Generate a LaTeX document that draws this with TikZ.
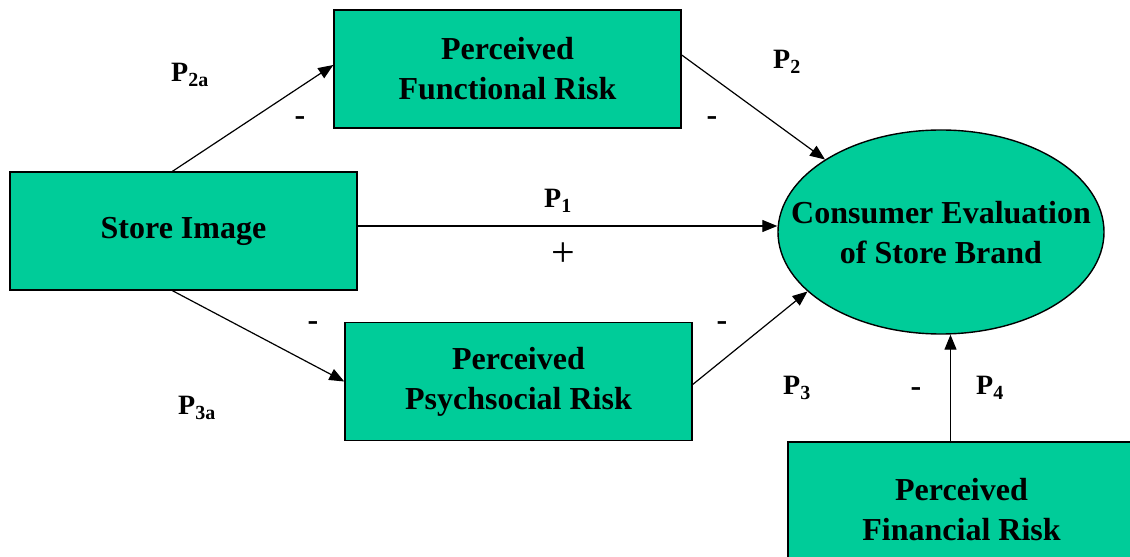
\documentclass[tikz,border=0pt]{standalone}
\usepackage{fontspec}
\setmainfont{Liberation Serif}
\usetikzlibrary{arrows.meta,shapes.geometric,calc}
\definecolor{boxgreen}{RGB}{0,204,153}
\tikzset{
  box/.style={draw=black, line width=1.4bp, fill=boxgreen, minimum width=347bp, minimum height=118bp, inner sep=0pt, align=center, font=\fontsize{32bp}{40bp}\selectfont\bfseries},
  oval/.style={ellipse, draw=black, line width=1.4bp, fill=boxgreen, minimum width=326bp, minimum height=204bp, inner sep=0pt},
  ovaltext/.style={align=center, inner sep=0pt, font=\fontsize{32bp}{40bp}\selectfont\bfseries},
  arr/.style={-{Triangle[length=15bp,width=12bp]}, line width=1.2bp},
  plab/.style={font=\fontsize{28bp}{32bp}\selectfont\bfseries, inner sep=0pt},
  sign/.style={font=\fontsize{32bp}{36bp}\selectfont\bfseries, inner sep=0pt},
}
\newcommand{\sub}[1]{\textsubscript{\fontsize{20bp}{22bp}\selectfont #1}}
\begin{document}
\begin{tikzpicture}[x=1bp,y=-1bp]
\useasboundingbox[clip] (0,0) rectangle (1130,557);
\fill[white] (0,0) rectangle (1130,557);
\node[box] (func) at (507.5,69) {Perceived\\Functional Risk};
\node[box] (store) at (183.5,231) {Store Image};
\node[box] (psych) at (518.5,381.5) {Perceived\\Psychsocial Risk};
\node[oval] (eval) at (941,232) {};
\node[ovaltext] (evaltext) at (941,233) {Consumer Evaluation\\of Store Brand};
\node[box, minimum height=136bp] (fin) at (961.5,510) {Perceived\\Financial Risk};

\draw[arr] ([xshift=-11bp]store.north) -- ([yshift=4bp]func.west);
\draw[arr] ([xshift=-11bp]store.south) -- (psych.west);
\draw[arr] ([yshift=5bp]store.east) -- ([yshift=5bp]store.east -| eval.west);
\draw[arr] ([yshift=14bp]func.east) -- (eval.148);
\draw[arr] ([yshift=-3bp]psych.east) -- (eval.204);
\draw[arr] ([xshift=-11bp]fin.north) -- ([xshift=-11bp]fin.north |- eval.south);

\node[plab] (p2a) at (190,75) {P\sub{2a}};
\node[sign] (m2a) at (300,121) {-};
\node[plab] (p2) at (787,62) {P\sub{2}};
\node[sign] (m2) at (712,121) {-};
\node[plab] (p1) at (558,201) {P\sub{1}};
\node[sign, font=\fontsize{42bp}{44bp}\selectfont] (plus) at (563,255) {+};
\node[sign] (m3a) at (313,326) {-};
\node[plab] (p3a) at (197,408) {P\sub{3a}};
\node[sign] (m3) at (722,326) {-};
\node[plab] (p3) at (797,388) {P\sub{3}};
\node[sign] (m4) at (916,392) {-};
\node[plab] (p4) at (990,388) {P\sub{4}};
\end{tikzpicture}
\end{document}
